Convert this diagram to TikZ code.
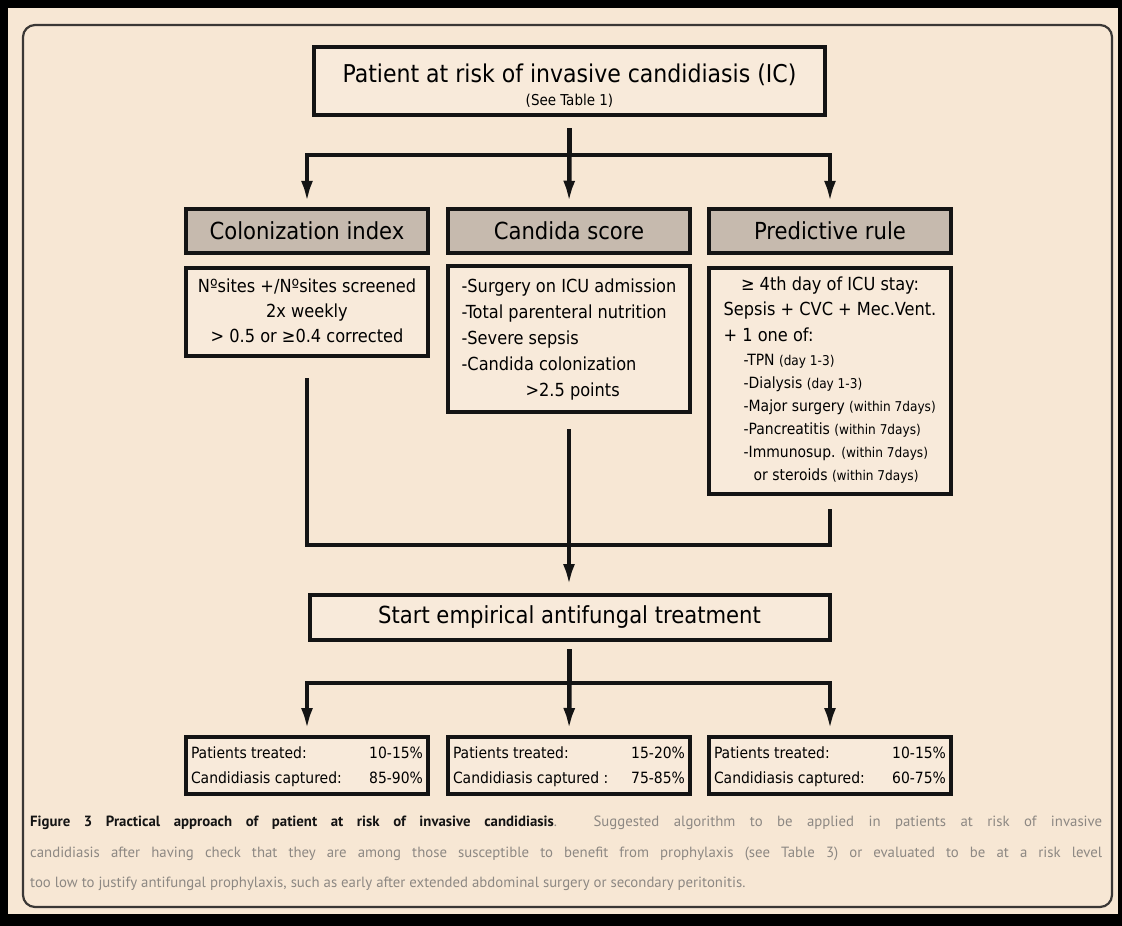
\documentclass[tikz,border=0pt]{standalone}
\usepackage{fontspec}
\setmainfont{DejaVu Sans Condensed}
\newfontfamily\captionfont{PT Sans}
\usepackage{xcolor}
\definecolor{icPaper}{HTML}{F7E7D4}
\definecolor{icBox}{HTML}{F8EADA}
\definecolor{icHead}{HTML}{C6BAAE}
\definecolor{icFrame}{HTML}{3A3735}
\definecolor{icInk}{HTML}{141414}
\definecolor{icGrey}{HTML}{8D8883}
\usetikzlibrary{arrows.meta,calc}
\newcommand{\fs}[2]{\fontsize{#1}{#2}\selectfont}

\begin{document}
\begin{tikzpicture}[x=1pt, y=-1pt, >={Latex[length=22pt,width=12pt]},
    box/.style={draw=icInk, line width=4pt, fill=icBox, inner sep=0pt, minimum width=242pt},
    headbox/.style={box, fill=icHead, minimum height=44.5pt, font=\fs{23.5}{27}},
    link/.style={icInk, line width=4.5pt}]
  \useasboundingbox (0,0) rectangle (1122,926);
  % page and frame
  \fill[black] (0,0) rectangle (1122,926);
  \fill[icPaper] (8,8) rectangle (1118,914);
  \draw[icFrame, line width=2.2pt, rounded corners=12pt] (23,25) rectangle (1112,907);

  % top box
  \node[box, minimum width=511pt, minimum height=68pt] (risk) at (569.5,81)
    {\raisebox{-5pt}[\height][\depth]{\begin{tabular}{@{}c@{}}\fs{24.5}{28}Patient at risk of invasive candidiasis (IC)\\[8pt]
      \fs{15}{14}(See Table 1)\end{tabular}}};

  % three scores
  \node[headbox] (ci) at (307,231) {Colonization index};
  \node[headbox] (cs) at (569,231) {Candida score};
  \node[headbox] (pr) at (830,231) {Predictive rule};

  \node[box, minimum height=88pt, font=\fs{18}{25}] (citext) at (307,312)
    {\begin{tabular}{@{}c@{}}
      Nºsites +/Nºsites screened\\
      2x weekly\\
      > 0.5 or ≥0.4 corrected
    \end{tabular}};
  \node[box, minimum height=146pt, font=\fs{18}{26}] (cstext) at (569,339)
    {\begin{tabular}{@{}l@{}}
      -Surgery on ICU admission\\
      -Total parenteral nutrition\\
      -Severe sepsis\\
      -Candida colonization\\
      \hspace*{64pt}>2.5 points
    \end{tabular}};
  \node[box, minimum height=226pt, font=\fs{18}{23}] (prtext) at (830,381)
    {\begin{tabular}{@{}l@{}}
      \multicolumn{1}{@{}c@{}}{≥ 4th day of ICU stay:}\\[2pt]
      \multicolumn{1}{@{}c@{}}{Sepsis + CVC + Mec.Vent.}\\[3pt]
      + 1 one of:\\[1pt]
      \hspace*{20pt}{\fs{15.5}{17}-TPN \fs{13.5}{12}(day 1-3)}\\
      \hspace*{20pt}{\fs{15.5}{17}-Dialysis \fs{13.5}{12}(day 1-3)}\\
      \hspace*{20pt}{\fs{15.5}{17}-Major surgery \fs{13.5}{12}(within 7days)}\\
      \hspace*{20pt}{\fs{15.5}{17}-Pancreatitis \fs{13.5}{12}(within 7days)}\\
      \hspace*{20pt}{\fs{15.5}{17}-Immunosup. \fs{13.5}{12}(within 7days)}\\
      \hspace*{30pt}{\fs{15.5}{17}or steroids \fs{13.5}{12}(within 7days)}
    \end{tabular}};

  % treatment
  \node[box, minimum width=520pt, minimum height=45pt, font=\fs{23.5}{27}] (start) at (569.5,617.5)
    {Start empirical antifungal treatment};

  % outcomes
  \node[box, minimum height=57pt, font=\fs{15.5}{25}] (outci) at (307,765.5)
    {\begin{tabular*}{232pt}{@{}l@{\extracolsep{\fill}}r@{}}
      Patients treated: & 10-15\%\\ Candidiasis captured: & 85-90\%\end{tabular*}};
  \node[box, minimum height=57pt, font=\fs{15.5}{25}] (outcs) at (569,765.5)
    {\begin{tabular*}{232pt}{@{}l@{\extracolsep{\fill}}r@{}}
      Patients treated: & 15-20\%\\ Candidiasis captured : & 75-85\%\end{tabular*}};
  \node[box, minimum height=57pt, font=\fs{15.5}{25}] (outpr) at (830,765.5)
    {\begin{tabular*}{232pt}{@{}l@{\extracolsep{\fill}}r@{}}
      Patients treated: & 10-15\%\\ Candidiasis captured: & 60-75\%\end{tabular*}};

  % connectors
  \coordinate (fork) at (569.5,155);
  \coordinate (join) at (569.5,545);
  \coordinate (fork2) at (569.5,683);
  \draw[link, shorten <=11pt] (risk.south) -- (risk.south |- fork);
  \draw[link, <->, shorten <=4pt, shorten >=4pt] (ci.north) |- (fork) -| (pr.north);
  \draw[link, ->, shorten >=4pt] (fork) -- (cs.north);
  \draw[link, shorten <=20pt, shorten >=13pt] (citext.south) |- (join) -| (prtext.south);
  \draw[link, ->, shorten <=15pt, shorten >=7pt] (cstext.south) -- (cstext.south |- start.north);
  \draw[link, shorten <=7pt] (start.south) -- (start.south |- fork2);
  \draw[link, <->, shorten <=5pt, shorten >=5pt] (outci.north) |- (fork2) -| (outpr.north);
  \draw[link, ->, shorten >=5pt] (fork2) -- (outcs.north);

  % caption
  \node[anchor=north west, inner sep=0pt, align=left, text=icGrey,
        font=\captionfont\fs{14.8}{30.5}] (caption) at (30,816)
    {\makebox[1072pt][s]{\textcolor{icInk}{\bfseries Figure 3 Practical approach of patient at risk of invasive candidiasis}. Suggested algorithm to be applied in patients at risk of invasive}\\
     \makebox[1072pt][s]{candidiasis after having check that they are among those susceptible to benefit from prophylaxis (see Table 3) or evaluated to be at a risk level}\\
     too low to justify antifungal prophylaxis, such as early after extended abdominal surgery or secondary peritonitis.};
\end{tikzpicture}
\end{document}
